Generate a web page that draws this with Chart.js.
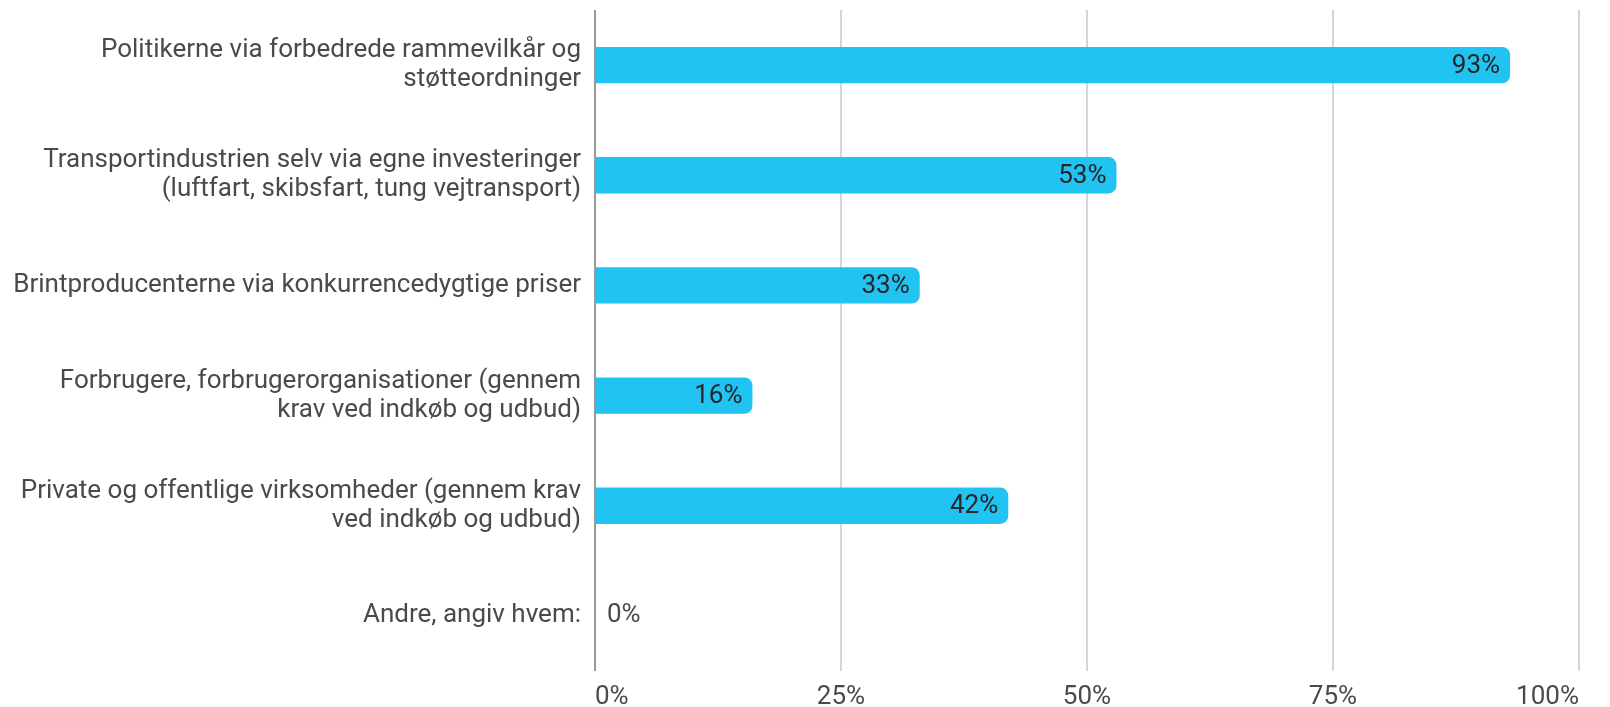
<!DOCTYPE html>
<html>
<head>
<meta charset="utf-8">
<script src="https://cdn.jsdelivr.net/npm/chart.js@4/dist/chart.umd.min.js"></script>
<style>
  html, body { margin: 0; padding: 0; background: #fff; }
  #wrap { width: 1610px; height: 707px; position: relative; }
</style>
</head>
<body>
<div id="wrap"><canvas id="chart"></canvas></div>
<script>
// Horizontal bar chart of survey answers (percent)
const categories = [
  ['Politikerne via forbedrede rammevilkår og', 'støtteordninger'],
  ['Transportindustrien selv via egne investeringer', '(luftfart, skibsfart, tung vejtransport)'],
  'Brintproducenterne via konkurrencedygtige priser',
  ['Forbrugere, forbrugerorganisationer (gennem', 'krav ved indkøb og udbud)'],
  ['Private og offentlige virksomheder (gennem krav', 'ved indkøb og udbud)'],
  'Andre, angiv hvem:'
];
const values = [93, 53, 33, 16, 42, 0];
const tickValues = [0, 25, 50, 75, 100];

const barColor = '#21c3f3';
const textColor = '#4a4a4a';
const fontFamily = 'Roboto, "Noto Sans", sans-serif';

// value labels at the end of each bar
const valueLabels = {
  id: 'valueLabels',
  afterDatasetsDraw(chart) {
    const { ctx } = chart;
    const meta = chart.getDatasetMeta(0);
    ctx.save();
    ctx.textBaseline = 'middle';
    ctx.font = '26px ' + fontFamily;
    meta.data.forEach((bar, i) => {
      const txt = values[i] + '%';
      if (values[i] > 5) {
        ctx.fillStyle = '#262626';
        ctx.textAlign = 'right';
        ctx.fillText(txt, bar.x - 10, bar.y + 1);
      } else {
        ctx.fillStyle = textColor;
        ctx.textAlign = 'left';
        ctx.fillText(txt, bar.x + 12, bar.y);
      }
    });
    ctx.restore();
  }
};

new Chart(document.getElementById('chart'), {
  type: 'bar',
  data: {
    labels: categories,
    datasets: [{
      data: values,
      backgroundColor: barColor,
      borderWidth: 0,
      borderRadius: 8,
      borderSkipped: 'start',
      categoryPercentage: 1,
      barPercentage: 0.33
    }]
  },
  options: {
    indexAxis: 'y',
    responsive: true,
    maintainAspectRatio: false,
    animation: false,
    layout: { padding: { top: 10, right: 31, left: 0, bottom: 0 } },
    plugins: {
      legend: { display: false },
      tooltip: { enabled: false }
    },
    scales: {
      x: {
        min: 0,
        max: 100,
        afterBuildTicks(scale) {
          scale.ticks = tickValues.map(v => ({ value: v }));
        },
        afterFit(scale) {
          scale.height = 36;
          scale.paddingLeft = 0;
          scale.paddingRight = 0;
        },
        grid: {
          color: ctx => ctx.index === 0 ? '#9a9a9a' : '#d6d6d6',
          lineWidth: 2,
          drawTicks: false
        },
        border: { display: false },
        ticks: {
          padding: 11,
          align: 'inner',
          color: textColor,
          font: { family: fontFamily, size: 26 },
          callback: v => v + '%'
        }
      },
      y: {
        afterFit(scale) {
          scale.width = 595;
          scale.paddingTop = 0;
          scale.paddingBottom = 0;
        },
        grid: { display: false, drawTicks: false },
        border: { display: false },
        ticks: {
          padding: 14,
          color: textColor,
          font: { family: fontFamily, size: 26, lineHeight: 1.12 }
        }
      }
    }
  },
  plugins: [valueLabels]
});
</script>
</body>
</html>
